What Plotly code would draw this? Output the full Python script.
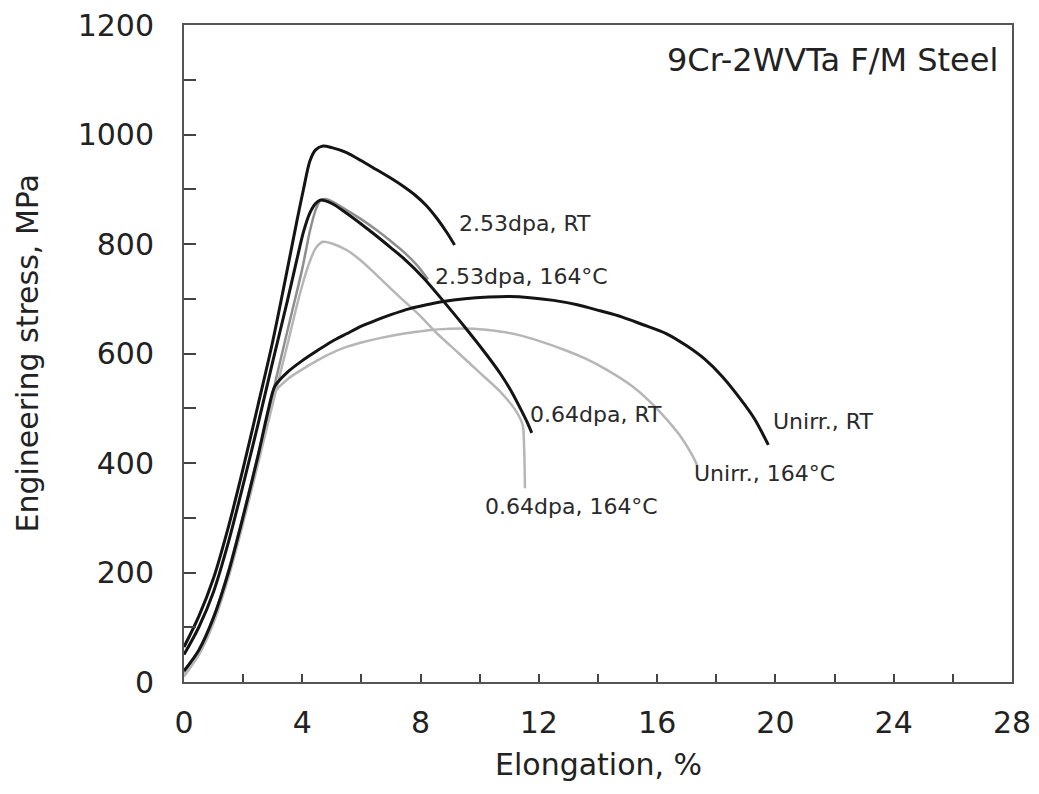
import plotly.graph_objects as go

# Engineering stress-strain curves, 9Cr-2WVTa ferritic/martensitic steel
# elongation in %, stress in MPa

elong_253_rt = [0, 0.5, 1.0, 1.5, 2.0, 2.5, 3.0, 3.4, 3.81, 4.04, 4.26, 4.45, 4.7, 5.0, 5.5, 6.0,
                6.5, 7.0, 7.4, 7.8, 8.2, 8.55, 8.9, 9.15]
stress_253_rt = [64, 120, 190, 283, 390, 505, 622, 728, 840, 900, 952, 972, 979, 976, 967, 952,
                 936, 920, 906, 890, 870, 847, 820, 798]

elong_064_rt = [0, 0.5, 1.0, 1.5, 2.0, 2.5, 3.0, 3.5, 3.81, 4.04, 4.25, 4.45, 4.6, 5.0, 5.5, 6.0,
                6.5, 7.0, 7.4, 8.1, 8.75, 9.5, 10.2, 10.7, 11.1, 11.4, 11.6, 11.76]
stress_064_rt = [50, 100, 165, 255, 360, 470, 585, 697, 770, 822, 856, 874, 880, 874, 856, 836,
                 815, 793, 775, 738, 697, 648, 600, 563, 528, 497, 475, 455]

elong_253_164 = [0, 0.5, 1.0, 1.5, 2.0, 2.5, 3.0, 3.5, 4.0, 4.25, 4.45, 4.6, 4.75, 5.0, 5.5, 6.0,
                 6.5, 7.0, 7.4, 7.9, 8.25]
stress_253_164 = [20, 58, 118, 203, 305, 415, 528, 642, 755, 822, 862, 879, 882, 878, 862, 845,
                  826, 805, 787, 760, 735]

elong_064_164 = [0, 0.5, 1.0, 1.5, 2.0, 2.5, 3.0, 3.5, 3.9, 4.2, 4.45, 4.7, 5.0, 5.5, 6.0, 6.5,
                 7.0, 7.4, 8.0, 8.55, 9.3, 10.0, 10.7, 11.2, 11.45, 11.5, 11.52, 11.53]
stress_064_164 = [15, 50, 108, 190, 290, 398, 508, 617, 705, 760, 792, 804, 801, 789, 769, 744,
                  718, 698, 668, 637, 600, 565, 530, 497, 470, 430, 390, 354]

elong_unirr_rt = [0, 0.5, 1.0, 1.5, 2.0, 2.5, 2.85, 3.07, 3.5, 4.0, 4.5, 5.0, 5.5, 6.0, 6.5, 7.0,
                  7.64, 8.2, 8.77, 9.5, 10.3, 11.0, 11.7, 12.5, 13.3, 14.07, 14.8, 15.5, 16.32,
                  17.0, 17.6, 18.2, 18.8, 19.3, 19.76]
stress_unirr_rt = [20, 58, 118, 200, 302, 412, 497, 540, 566, 587, 605, 622, 636, 650, 661, 671,
                   682, 689, 695, 700, 703, 704, 702, 697, 689, 678, 667, 653, 636,
                   614, 590, 558, 518, 480, 433]

elong_unirr_164 = [0, 0.5, 1.0, 1.5, 2.0, 2.5, 2.85, 3.05, 3.5, 4.0, 4.5, 5.04, 5.5, 6.0, 6.7, 7.3,
                   8.2, 9.0, 9.8, 10.69, 11.3, 12.0, 12.94, 13.6, 14.3, 15.19, 15.8, 16.3, 16.8,
                   17.2, 17.35]
stress_unirr_164 = [10, 50, 110, 195, 295, 402, 490, 528, 553, 571, 587, 602, 612, 620, 629, 635,
                    642, 645, 645, 640, 634, 623, 605, 590, 570, 539, 510, 481, 448,
                    413, 396]

# curve labels: text, anchor elongation, anchor stress
label_text = ["2.53dpa, RT", "2.53dpa, 164°C", "0.64dpa, RT", "0.64dpa, 164°C",
              "Unirr., RT", "Unirr., 164°C"]
label_x = [9.23, 8.42, 11.63, 10.11, 19.85, 17.18]
label_y = [838, 740, 489, 320, 475, 380]

x_ticks = [0, 4, 8, 12, 16, 20, 24, 28]
y_ticks = [0, 200, 400, 600, 800, 1000, 1200]

FONT = "DejaVu Sans"
BLACK = "#141414"

curves = [
    (elong_unirr_164, stress_unirr_164, "#b6b6b6", 2.5),
    (elong_064_164, stress_064_164, "#b6b6b6", 2.5),
    (elong_253_164, stress_253_164, "#8e8e8e", 2.5),
    (elong_unirr_rt, stress_unirr_rt, BLACK, 3),
    (elong_064_rt, stress_064_rt, BLACK, 3),
    (elong_253_rt, stress_253_rt, BLACK, 3),
]

fig = go.Figure()
for xs, ys, color, width in curves:
    fig.add_trace(go.Scatter(
        x=xs, y=ys, mode="lines",
        line=dict(color=color, width=width, shape="spline", smoothing=0.8),
        showlegend=False, hoverinfo="skip",
    ))

for t, lx, ly in zip(label_text, label_x, label_y):
    fig.add_annotation(x=lx, y=ly, text=t, showarrow=False, xanchor="left", yanchor="middle",
                       font=dict(family=FONT, size=22, color="#2a2a2a"))

fig.add_annotation(x=27.6, y=1136, text="9Cr-2WVTa F/M Steel", showarrow=False,
                   xanchor="right", yanchor="middle",
                   font=dict(family=FONT, size=32, color="#222"))

# axis titles
fig.add_annotation(xref="paper", yref="paper", x=0.5, y=0, yshift=-82, text="Elongation, %",
                   showarrow=False, xanchor="center", yanchor="middle",
                   font=dict(family=FONT, size=30, color="#222"))
fig.add_annotation(xref="paper", yref="paper", x=0, y=0.5, xshift=-157,
                   text="Engineering stress, MPa", textangle=-90, showarrow=False,
                   xanchor="center", yanchor="middle",
                   font=dict(family=FONT, size=30, color="#222"))

axis_common = dict(
    showgrid=False, zeroline=False, showline=True, linecolor="#555", linewidth=2,
    mirror=True, ticks="inside", tickcolor="#444", tickwidth=2,
    tickfont=dict(family=FONT, size=30, color="#222"),
)

fig.update_xaxes(range=[0, 28], tickvals=x_ticks, ticklen=8, ticklabelstandoff=13,
                 minor=dict(dtick=2, ticks="inside", ticklen=8, tickcolor="#444", tickwidth=2),
                 **axis_common)
fig.update_yaxes(range=[0, 1200], tickvals=y_ticks, ticklen=12, ticklabelstandoff=22,
                 minor=dict(dtick=100, ticks="inside", ticklen=12, tickcolor="#444", tickwidth=2),
                 **axis_common)

fig.update_layout(
    width=1039, height=794,
    margin=dict(l=184, r=27, t=25, b=112, autoexpand=False),
    plot_bgcolor="white", paper_bgcolor="white",
)

fig.write_html("out.html")
